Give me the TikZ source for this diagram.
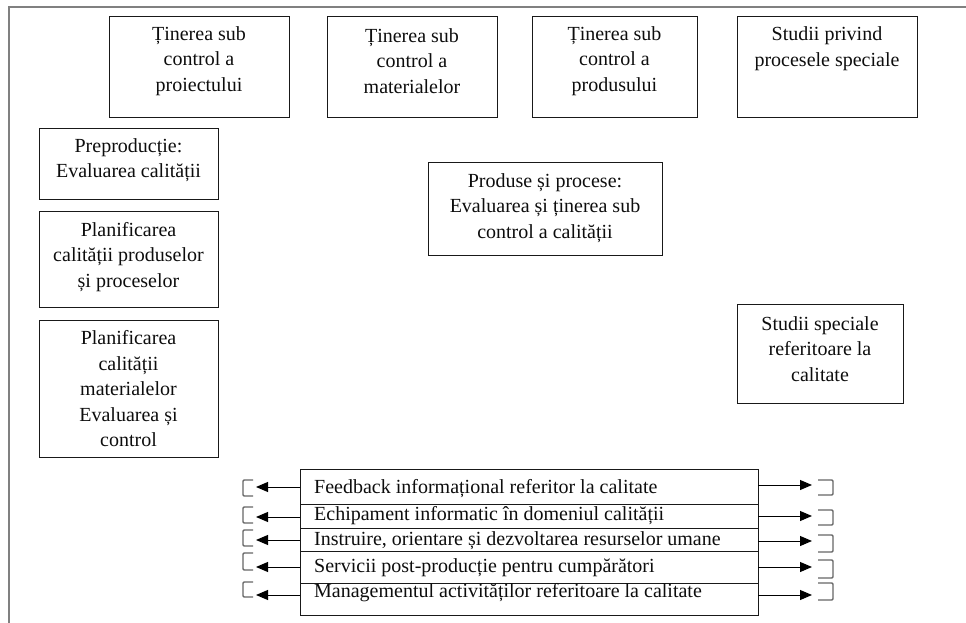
\documentclass[tikz,border=0pt]{standalone}
\usepackage{fontspec}
\setmainfont{Liberation Serif}
\usetikzlibrary{arrows.meta}

\tikzset{
  box/.style={draw=black!90, line width=1.1pt, inner sep=0pt},
  label20/.style={font=\fontsize{20}{25.5}\selectfont, align=center, inner sep=0pt, text=black!95},
  rowtext/.style={font=\fontsize{20}{24}\selectfont, anchor=west, inner sep=0pt,
                  text height=14pt, text depth=4pt, text=black!95},
  arr/.style={-{Triangle[length=12pt,width=10pt]}, line width=1pt, black},
  brk/.style={draw=black!60, line width=1.4pt, rounded corners=1.2pt},
  frame/.style={draw=black!50, line width=2.6pt}
}

% rectangle given by corners (x1,y1) (x2,y2), y measured downward
\newcommand{\pbox}[5]{%
  \node[box, minimum width=#4pt-#2pt, minimum height=#5pt-#3pt, anchor=north west] (#1) at (#2,#3) {};}

\begin{document}
\begin{tikzpicture}[x=1pt, y=-1pt]
\useasboundingbox (0,0) rectangle (966,623);

% outer frame: top and left edges only
\draw[frame] (9,623) -- (9,7) -- (966,7);

% top row of boxes
\pbox{p1}{109}{16}{289}{117}
\pbox{p2}{327}{16}{497}{117}
\pbox{p3}{532}{16}{697}{117}
\pbox{p4}{737}{16}{917}{117}
\node[label20] (t1) at (199,61) {Ținerea sub\\control a\\proiectului};
\node[label20] (t2) at (412,61) {Ținerea sub\\control a\\materialelor};
\node[label20] (t3) at (614.5,61) {Ținerea sub\\control a\\produsului};
\node[label20] (t4) at (827,48.5) {Studii privind\\procesele speciale};

% left column
\pbox{q1}{39}{128}{218}{199}
\pbox{q2}{39}{211}{218}{307}
\pbox{q3}{39}{320}{218}{457}
\node[label20] (u1) at (128.5,160) {Preproducție:\\Evaluarea calității};
\node[label20] (u2) at (128.5,257) {Planificarea\\calității produselor\\și proceselor};
\node[label20] (u3) at (128.5,389) {Planificarea\\calității\\materialelor\\Evaluarea și\\control};

% centre and right boxes
\pbox{c1}{428}{162}{662}{255}
\node[label20] (v1) at (545,208) {Produse și procese:\\Evaluarea și ținerea sub\\control a calității};
\pbox{s1}{737}{304}{903}{403}
\node[label20] (w1) at (820,349) {Studii speciale\\referitoare la\\calitate};

% bottom table of support activities
\pbox{r1}{300}{469}{758}{504}
\pbox{r2}{300}{504}{758}{528}
\pbox{r3}{300}{528}{758}{551}
\pbox{r4}{300}{551}{758}{583}
\pbox{r5}{300}{583}{758}{615}
\node[rowtext] (x1) at (314,488) {Feedback informațional referitor la calitate};
\node[rowtext] (x2) at (314,515) {Echipament informatic în domeniul calității};
\node[rowtext] (x3) at (314,540) {Instruire, orientare și dezvoltarea resurselor umane};
\node[rowtext] (x4) at (314,567) {Servicii post-producție pentru cumpărători};
\node[rowtext] (x5) at (314,592) {Managementul activităților referitoare la calitate};

% arrows leaving the table on both sides, ending at small brackets
\foreach \i/\ya/\yb/\lt/\lb/\rt/\rb in {1/487/485/480/496/480/495,
                                        2/517/516/507/523/510/525,
                                        3/540/541/530/546/535/552,
                                        4/567/567/553/570/560/578,
                                        5/595/595/582/597/583/600}{
  \coordinate (ls\i) at (300,\ya);
  \coordinate (le\i) at (256,\ya);
  \coordinate (rs\i) at (758,\yb);
  \coordinate (re\i) at (812,\yb);
  \draw[arr] (ls\i) -- (le\i);
  \draw[arr] (rs\i) -- (re\i);
  \draw[brk] (253,\lt) -- (243,\lt) -- (243,\lb) -- (253,\lb);
  \draw[brk] (818,\rt) -- (833,\rt) -- (833,\rb) -- (818,\rb);
}
\end{tikzpicture}
\end{document}
